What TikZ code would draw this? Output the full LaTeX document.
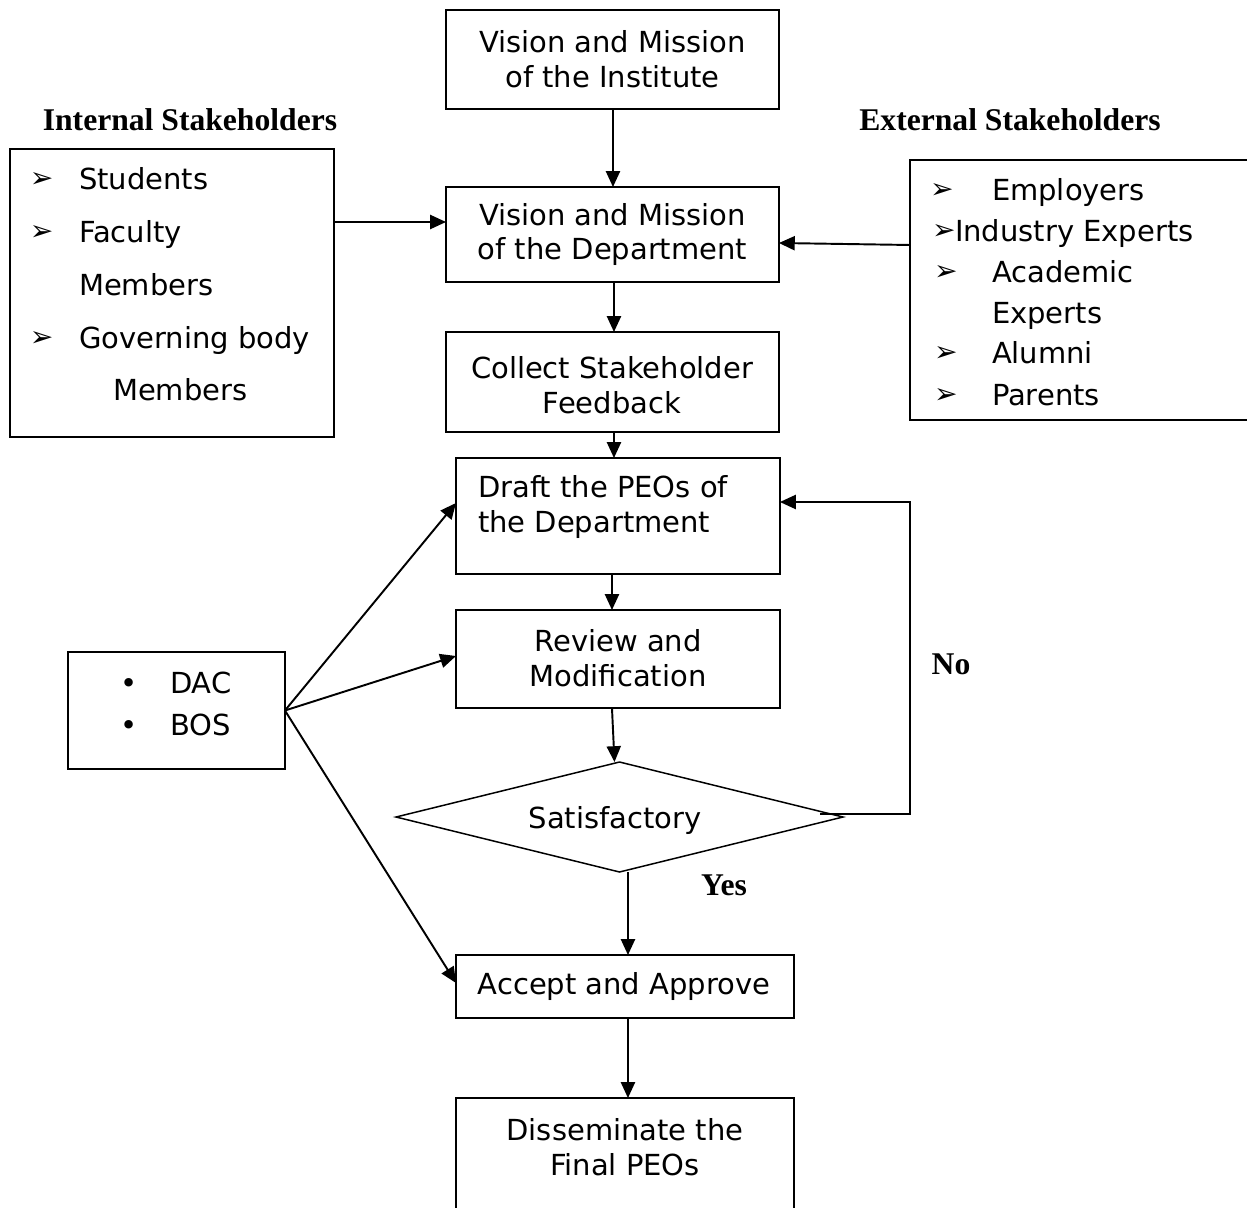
\documentclass[tikz,border=0pt]{standalone}
\usepackage{fontspec}
\setmainfont{DejaVu Sans}
\newfontfamily\tms{Liberation Serif}
\usetikzlibrary{arrows.meta,shapes.geometric}
\begin{document}
\begin{tikzpicture}[x=0.02cm,y=-0.02cm,
  every node/.style={inner sep=0pt,outer sep=0pt},
  txt/.style={font=\fontsize{16.5}{19.9}\selectfont,align=center},
  box/.style={draw,line width=1.1pt,anchor=north west},
  lbl/.style={font=\tms\bfseries\fontsize{18}{20}\selectfont},
  itm/.style={font=\fontsize{16.5}{19.9}\selectfont,anchor=base west},
  tick/.style={font=\fontsize{16}{17}\selectfont,anchor=base west},
  arr/.style={line width=1.1pt,-{Triangle[length=9pt,width=8pt]}}]
\clip (0,0) rectangle (1247,1207);
\fill[white] (0,0) rectangle (1247,1207);

% main column
\node[box,minimum width=6.66cm,minimum height=1.98cm] (inst) at (446,10) {};
\node[txt] (instT) at (inst.center) {Vision and Mission\\of the Institute};
\node[box,minimum width=6.66cm,minimum height=1.9cm] (dept) at (446,187) {};
\node[txt] (deptT) at (dept.center) {Vision and Mission\\of the Department};
\node[box,minimum width=6.66cm,minimum height=2.0cm] (coll) at (446,332) {};
\node[txt] (collT) at (612,385) {Collect Stakeholder\\Feedback};
\node[box,minimum width=6.48cm,minimum height=2.32cm] (draft) at (456,458) {};
\node[txt,align=left,anchor=west] (draftT) at (478,507) {Draft the PEOs of\\the Department};
\node[box,minimum width=6.48cm,minimum height=1.96cm] (rev) at (456,610) {};
\node[txt] (revT) at (618,658) {Review and\\Modification};
\node[draw,line width=0.85pt,shape=diamond,minimum width=8.94cm,minimum height=2.2cm] (dia) at (619.5,817) {};
\node[txt] (diaT) at (615,820) {Satisfactory};
\node[box,minimum width=6.76cm,minimum height=1.26cm] (acc) at (456,955) {};
\node[txt] (accT) at (624,986) {Accept and Approve};
\node[box,minimum width=6.76cm,minimum height=2.64cm] (dis) at (456,1098) {};
\node[txt] (disT) at (625,1147) {Disseminate the\\Final PEOs};

% stakeholder headings and decision labels
\node[lbl] (intL) at (190,120) {Internal Stakeholders};
\node[lbl] (extL) at (1010,120) {External Stakeholders};
\node[lbl] (noL) at (951,664) {No};
\node[lbl] (yesL) at (724,885) {Yes};

% internal stakeholders
\node[box,minimum width=6.48cm,minimum height=5.76cm] (int) at (10,149) {};
\node[tick] (ib1) at (30,187) {➢};
\node[itm] (i1) at (79,189) {Students};
\node[tick] (ib2) at (30,240) {➢};
\node[itm] (i2) at (79,242) {Faculty};
\node[itm] (i3) at (79,295) {Members};
\node[tick] (ib3) at (30,346) {➢};
\node[itm] (i4) at (79,348) {Governing body};
\node[itm] (i5) at (113,400) {Members};

% external stakeholders
\node[box,minimum width=7cm,minimum height=5.2cm] (ext) at (910,160) {};
\node[tick] (eb1) at (930,198) {➢};
\node[itm] (e1) at (992,200) {Employers};
\node[tick] (eb2) at (932,239) {➢};
\node[itm] (e2) at (955,241) {Industry Experts};
\node[tick] (eb3) at (934,280) {➢};
\node[itm] (e3) at (992,282) {Academic};
\node[itm] (e4) at (992,323) {Experts};
\node[tick] (eb4) at (934,361) {➢};
\node[itm] (e5) at (992,363) {Alumni};
\node[tick] (eb5) at (934,403) {➢};
\node[itm] (e6) at (992,405) {Parents};

% committees
\node[box,minimum width=4.34cm,minimum height=2.34cm] (dac) at (68,652) {};
\node[itm] (d1) at (120,693) {•};
\node[itm] (d2) at (170,693) {DAC};
\node[itm] (d3) at (120,735) {•};
\node[itm] (d4) at (170,735) {BOS};

% connectors
\draw[arr] ([xshift=0.01cm]inst.south) -- ([xshift=0.01cm]dept.north);
\draw[arr] ([yshift=-1.46cm]int.north east) -- ([yshift=0.25cm]dept.west);
\draw[arr] ([yshift=0.9cm]ext.west) -- ([yshift=-0.17cm]dept.east);
\draw[arr] ([xshift=0.03cm]dept.south) -- ([xshift=0.03cm]coll.north);
\draw[arr] ([xshift=0.03cm]coll.south) -- ([xshift=-0.08cm]draft.north);
\draw[arr] ([xshift=-0.12cm]draft.south) -- ([xshift=-0.12cm]rev.north);
\draw[arr] ([xshift=-0.12cm]rev.south) -- ([xshift=-0.1cm]dia.north);
\draw[arr] ([xshift=0.17cm]dia.south) -- ([xshift=0.06cm]acc.north);
\draw[arr] ([xshift=0.06cm]acc.south) -- ([xshift=0.06cm]dis.north);
\draw[arr] (dac.east) -- ([yshift=0.26cm]draft.west);
\draw[arr] (dac.east) -- ([yshift=0.06cm]rev.west);
\draw[arr] (dac.east) -- ([yshift=0.07cm]acc.west);
\coordinate (loopA) at (820,814);
\coordinate (loopB) at (910,814);
\draw[arr] (loopA) -- (loopB) |- ([yshift=0.28cm]draft.east);
\end{tikzpicture}
\end{document}
